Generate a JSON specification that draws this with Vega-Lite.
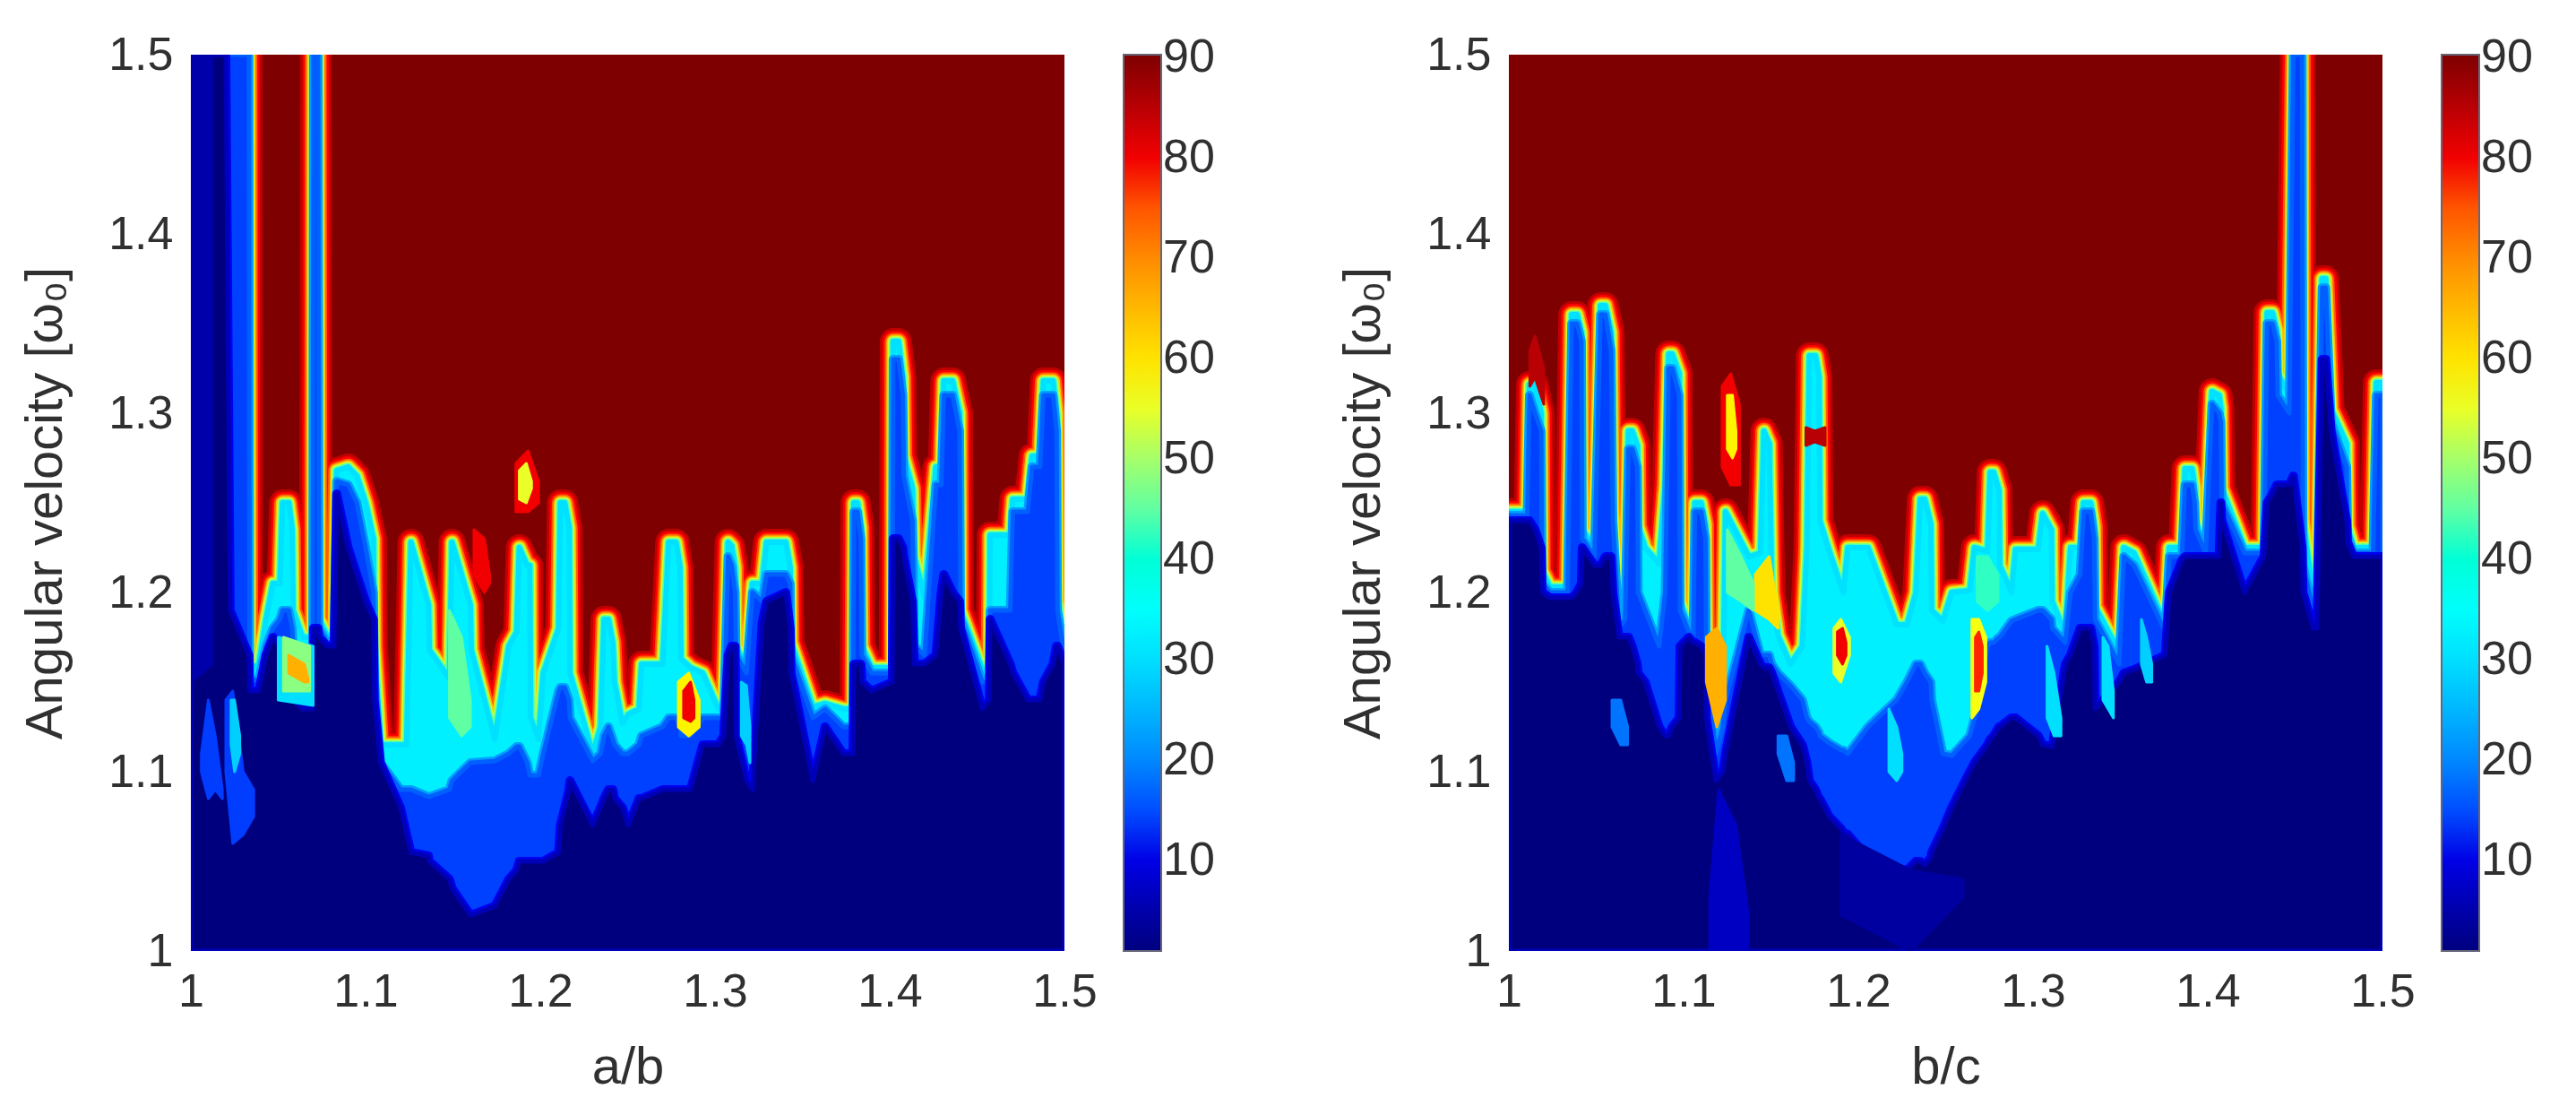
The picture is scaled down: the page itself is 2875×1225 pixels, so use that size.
{"$schema":"https://vega.github.io/schema/vega-lite/v6.json","background":"white","padding":{"left":22,"top":35,"right":0,"bottom":0},"spacing":137,
"config":{"view":{"stroke":null,"fill":"#7f0000"},"axis":{"grid":false,"ticks":false,"domain":false,"labelFlush":false,"labelFont":"Liberation Sans","titleFont":"Liberation Sans","labelFontSize":52,"titleFontSize":58,"labelColor":"#303030","titleColor":"#303030","titleFontWeight":"normal","labelPadding":20},"legend":{"gradientLength":1000,"gradientThickness":42,"gradientStrokeColor":"#667","gradientStrokeWidth":2,"labelFontSize":52,"labelFont":"Liberation Sans","labelColor":"#303030","labelOffset":16,"offset":66,"labelOverlap":false,"labelBaseline":"middle","padding":0,"title":null}},
"datasets":{
"L":[{"x":1,"t":1.5,"c":1.5,"n":1.5},{"x":1.02,"t":1.5,"c":1.5,"n":1.5},{"x":1.0225,"t":1.5,"c":1.5,"n":1.19},{"x":1.0332,"t":1.5,"c":1.5,"n":1.165},{"x":1.0336,"t":1.157,"c":1.15,"n":1.145},{"x":1.039,"t":1.16,"c":1.152,"n":1.145},{"x":1.043,"t":1.185,"c":1.17,"n":1.165},{"x":1.047,"t":1.205,"c":1.18,"n":1.175},{"x":1.051,"t":1.205,"c":1.185,"n":1.17},{"x":1.0525,"t":1.25,"c":1.19,"n":1.17},{"x":1.056,"t":1.25,"c":1.19,"n":1.16},{"x":1.058,"t":1.235,"c":1.18,"n":1.15},{"x":1.0585,"t":1.19,"c":1.17,"n":1.14},{"x":1.064,"t":1.175,"c":1.155,"n":1.135},{"x":1.0698,"t":1.175,"c":1.15,"n":1.135},{"x":1.0702,"t":1.5,"c":1.5,"n":1.18},{"x":1.0728,"t":1.5,"c":1.5,"n":1.18},{"x":1.0733,"t":1.185,"c":1.18,"n":1.175},{"x":1.078,"t":1.176,"c":1.172,"n":1.17},{"x":1.082,"t":1.176,"c":1.172,"n":1.17},{"x":1.0835,"t":1.268,"c":1.262,"n":1.255},{"x":1.09,"t":1.27,"c":1.26,"n":1.225},{"x":1.095,"t":1.265,"c":1.25,"n":1.21},{"x":1.1,"t":1.25,"c":1.225,"n":1.195},{"x":1.1045,"t":1.23,"c":1.2,"n":1.185},{"x":1.105,"t":1.17,"c":1.15,"n":1.14},{"x":1.1085,"t":1.115,"c":1.105,"n":1.105},{"x":1.12,"t":1.115,"c":1.09,"n":1.08},{"x":1.1235,"t":1.115,"c":1.09,"n":1.065},{"x":1.126,"t":1.228,"c":1.09,"n":1.055},{"x":1.136,"t":1.193,"c":1.086,"n":1.053},{"x":1.1365,"t":1.168,"c":1.086,"n":1.05},{"x":1.148,"t":1.152,"c":1.09,"n":1.04},{"x":1.1495,"t":1.228,"c":1.095,"n":1.035},{"x":1.16,"t":1.193,"c":1.105,"n":1.02},{"x":1.1605,"t":1.168,"c":1.105,"n":1.02},{"x":1.174,"t":1.118,"c":1.106,"n":1.025},{"x":1.182,"t":1.17,"c":1.11,"n":1.04},{"x":1.1865,"t":1.178,"c":1.114,"n":1.045},{"x":1.188,"t":1.225,"c":1.114,"n":1.05},{"x":1.1925,"t":1.215,"c":1.105,"n":1.05},{"x":1.194,"t":1.215,"c":1.098,"n":1.05},{"x":1.1945,"t":1.13,"c":1.098,"n":1.05},{"x":1.199,"t":1.118,"c":1.098,"n":1.05},{"x":1.2017,"t":1.155,"c":1.11,"n":1.05},{"x":1.2105,"t":1.18,"c":1.145,"n":1.055},{"x":1.2115,"t":1.25,"c":1.147,"n":1.07},{"x":1.214,"t":1.25,"c":1.147,"n":1.08},{"x":1.2165,"t":1.236,"c":1.14,"n":1.09},{"x":1.217,"t":1.155,"c":1.13,"n":1.095},{"x":1.23,"t":1.11,"c":1.106,"n":1.07},{"x":1.2345,"t":1.125,"c":1.11,"n":1.08},{"x":1.2365,"t":1.185,"c":1.12,"n":1.085},{"x":1.239,"t":1.185,"c":1.125,"n":1.09},{"x":1.2415,"t":1.172,"c":1.118,"n":1.09},{"x":1.2425,"t":1.15,"c":1.115,"n":1.085},{"x":1.247,"t":1.127,"c":1.11,"n":1.08},{"x":1.2503,"t":1.132,"c":1.11,"n":1.07},{"x":1.2565,"t":1.135,"c":1.115,"n":1.085},{"x":1.258,"t":1.16,"c":1.12,"n":1.085},{"x":1.27,"t":1.16,"c":1.125,"n":1.09},{"x":1.2735,"t":1.228,"c":1.13,"n":1.09},{"x":1.2777,"t":1.228,"c":1.13,"n":1.09},{"x":1.28,"t":1.214,"c":1.125,"n":1.09},{"x":1.2805,"t":1.163,"c":1.12,"n":1.09},{"x":1.286,"t":1.158,"c":1.12,"n":1.09},{"x":1.293,"t":1.155,"c":1.13,"n":1.115},{"x":1.302,"t":1.135,"c":1.13,"n":1.115},{"x":1.305,"t":1.135,"c":1.13,"n":1.12},{"x":1.3075,"t":1.228,"c":1.22,"n":1.165},{"x":1.3095,"t":1.226,"c":1.215,"n":1.17},{"x":1.3115,"t":1.214,"c":1.2,"n":1.17},{"x":1.312,"t":1.17,"c":1.165,"n":1.12},{"x":1.318,"t":1.158,"c":1.155,"n":1.095},{"x":1.3215,"t":1.205,"c":1.2,"n":1.09},{"x":1.327,"t":1.205,"c":1.195,"n":1.183},{"x":1.3295,"t":1.228,"c":1.21,"n":1.195},{"x":1.3405,"t":1.228,"c":1.21,"n":1.2},{"x":1.343,"t":1.214,"c":1.205,"n":1.18},{"x":1.3435,"t":1.172,"c":1.165,"n":1.155},{"x":1.356,"t":1.136,"c":1.13,"n":1.095},{"x":1.363,"t":1.138,"c":1.135,"n":1.125},{"x":1.3734,"t":1.135,"c":1.125,"n":1.11},{"x":1.379,"t":1.135,"c":1.125,"n":1.11},{"x":1.3795,"t":1.25,"c":1.245,"n":1.16},{"x":1.3815,"t":1.25,"c":1.245,"n":1.16},{"x":1.3835,"t":1.236,"c":1.23,"n":1.16},{"x":1.384,"t":1.17,"c":1.165,"n":1.15},{"x":1.3896,"t":1.158,"c":1.155,"n":1.145},{"x":1.4015,"t":1.158,"c":1.155,"n":1.15},{"x":1.402,"t":1.34,"c":1.33,"n":1.23},{"x":1.405,"t":1.34,"c":1.33,"n":1.23},{"x":1.4075,"t":1.32,"c":1.31,"n":1.225},{"x":1.408,"t":1.276,"c":1.265,"n":1.22},{"x":1.413,"t":1.258,"c":1.24,"n":1.195},{"x":1.414,"t":1.22,"c":1.17,"n":1.16},{"x":1.42,"t":1.197,"c":1.165,"n":1.16},{"x":1.4265,"t":1.27,"c":1.26,"n":1.165},{"x":1.4295,"t":1.27,"c":1.26,"n":1.2},{"x":1.431,"t":1.318,"c":1.31,"n":1.21},{"x":1.436,"t":1.318,"c":1.31,"n":1.2},{"x":1.44,"t":1.3,"c":1.29,"n":1.195},{"x":1.4405,"t":1.19,"c":1.185,"n":1.18},{"x":1.453,"t":1.157,"c":1.15,"n":1.135},{"x":1.457,"t":1.157,"c":1.15,"n":1.14},{"x":1.4575,"t":1.232,"c":1.19,"n":1.185},{"x":1.469,"t":1.232,"c":1.19,"n":1.16},{"x":1.4705,"t":1.252,"c":1.245,"n":1.155},{"x":1.479,"t":1.252,"c":1.245,"n":1.14},{"x":1.4815,"t":1.276,"c":1.27,"n":1.14},{"x":1.486,"t":1.276,"c":1.27,"n":1.14},{"x":1.488,"t":1.318,"c":1.31,"n":1.15},{"x":1.4935,"t":1.318,"c":1.31,"n":1.16},{"x":1.4955,"t":1.3,"c":1.29,"n":1.17},{"x":1.496,"t":1.195,"c":1.19,"n":1.17},{"x":1.5,"t":1.17,"c":1.165,"n":1.16}],
"R":[{"x":1,"t":1.245,"c":1.243,"n":1.24},{"x":1.0105,"t":1.245,"c":1.243,"n":1.24},{"x":1.0118,"t":1.316,"c":1.31,"n":1.24},{"x":1.015,"t":1.316,"c":1.3,"n":1.235},{"x":1.0185,"t":1.3,"c":1.29,"n":1.225},{"x":1.019,"t":1.212,"c":1.205,"n":1.2},{"x":1.0235,"t":1.203,"c":1.2,"n":1.197},{"x":1.0336,"t":1.203,"c":1.2,"n":1.197},{"x":1.036,"t":1.355,"c":1.35,"n":1.197},{"x":1.039,"t":1.355,"c":1.35,"n":1.2},{"x":1.0415,"t":1.345,"c":1.34,"n":1.205},{"x":1.042,"t":1.235,"c":1.23,"n":1.225},{"x":1.049,"t":1.225,"c":1.22,"n":1.215},{"x":1.0525,"t":1.36,"c":1.355,"n":1.215},{"x":1.0552,"t":1.36,"c":1.355,"n":1.22},{"x":1.0585,"t":1.345,"c":1.335,"n":1.22},{"x":1.0595,"t":1.245,"c":1.24,"n":1.2},{"x":1.063,"t":1.184,"c":1.18,"n":1.175},{"x":1.0665,"t":1.19,"c":1.185,"n":1.175},{"x":1.0685,"t":1.29,"c":1.28,"n":1.175},{"x":1.0706,"t":1.29,"c":1.28,"n":1.17},{"x":1.0735,"t":1.282,"c":1.27,"n":1.16},{"x":1.074,"t":1.237,"c":1.2,"n":1.155},{"x":1.078,"t":1.225,"c":1.19,"n":1.15},{"x":1.086,"t":1.216,"c":1.17,"n":1.125},{"x":1.0895,"t":1.26,"c":1.2,"n":1.12},{"x":1.0915,"t":1.333,"c":1.325,"n":1.12},{"x":1.0935,"t":1.333,"c":1.325,"n":1.125},{"x":1.0975,"t":1.322,"c":1.31,"n":1.13},{"x":1.098,"t":1.195,"c":1.19,"n":1.17},{"x":1.103,"t":1.182,"c":1.178,"n":1.175},{"x":1.1055,"t":1.18,"c":1.175,"n":1.172},{"x":1.1065,"t":1.25,"c":1.245,"n":1.172},{"x":1.11,"t":1.25,"c":1.245,"n":1.17},{"x":1.1125,"t":1.238,"c":1.23,"n":1.165},{"x":1.113,"t":1.18,"c":1.16,"n":1.13},{"x":1.1185,"t":1.126,"c":1.11,"n":1.095},{"x":1.1225,"t":1.14,"c":1.125,"n":1.1},{"x":1.124,"t":1.245,"c":1.14,"n":1.11},{"x":1.1373,"t":1.22,"c":1.19,"n":1.175},{"x":1.144,"t":1.222,"c":1.165,"n":1.16},{"x":1.146,"t":1.29,"c":1.165,"n":1.158},{"x":1.149,"t":1.283,"c":1.165,"n":1.158},{"x":1.1505,"t":1.2,"c":1.16,"n":1.155},{"x":1.154,"t":1.176,"c":1.155,"n":1.145},{"x":1.1612,"t":1.16,"c":1.148,"n":1.125},{"x":1.168,"t":1.17,"c":1.14,"n":1.115},{"x":1.1706,"t":1.225,"c":1.13,"n":1.105},{"x":1.172,"t":1.332,"c":1.128,"n":1.095},{"x":1.1755,"t":1.332,"c":1.125,"n":1.09},{"x":1.1775,"t":1.32,"c":1.122,"n":1.085},{"x":1.178,"t":1.24,"c":1.12,"n":1.085},{"x":1.1834,"t":1.223,"c":1.116,"n":1.075},{"x":1.1903,"t":1.203,"c":1.112,"n":1.068},{"x":1.1915,"t":1.2,"c":1.112,"n":1.066},{"x":1.194,"t":1.225,"c":1.11,"n":1.065},{"x":1.2056,"t":1.225,"c":1.125,"n":1.052},{"x":1.2219,"t":1.182,"c":1.14,"n":1.046},{"x":1.2279,"t":1.182,"c":1.15,"n":1.045},{"x":1.233,"t":1.2,"c":1.16,"n":1.05},{"x":1.2355,"t":1.252,"c":1.16,"n":1.05},{"x":1.238,"t":1.252,"c":1.155,"n":1.048},{"x":1.2415,"t":1.238,"c":1.15,"n":1.052},{"x":1.242,"t":1.19,"c":1.14,"n":1.055},{"x":1.2484,"t":1.184,"c":1.11,"n":1.068},{"x":1.2535,"t":1.2,"c":1.109,"n":1.08},{"x":1.2638,"t":1.201,"c":1.12,"n":1.1},{"x":1.2665,"t":1.225,"c":1.13,"n":1.105},{"x":1.274,"t":1.223,"c":1.17,"n":1.115},{"x":1.2755,"t":1.267,"c":1.172,"n":1.118},{"x":1.2775,"t":1.267,"c":1.172,"n":1.12},{"x":1.2805,"t":1.257,"c":1.175,"n":1.125},{"x":1.281,"t":1.215,"c":1.175,"n":1.125},{"x":1.2877,"t":1.2,"c":1.184,"n":1.13},{"x":1.29,"t":1.224,"c":1.185,"n":1.13},{"x":1.303,"t":1.224,"c":1.19,"n":1.12},{"x":1.3055,"t":1.244,"c":1.19,"n":1.115},{"x":1.3105,"t":1.235,"c":1.185,"n":1.114},{"x":1.311,"t":1.195,"c":1.18,"n":1.114},{"x":1.3185,"t":1.177,"c":1.172,"n":1.16},{"x":1.3215,"t":1.225,"c":1.2,"n":1.165},{"x":1.327,"t":1.225,"c":1.21,"n":1.18},{"x":1.329,"t":1.25,"c":1.245,"n":1.18},{"x":1.333,"t":1.25,"c":1.245,"n":1.18},{"x":1.335,"t":1.237,"c":1.23,"n":1.17},{"x":1.3355,"t":1.192,"c":1.185,"n":1.135},{"x":1.3493,"t":1.167,"c":1.16,"n":1.15},{"x":1.352,"t":1.225,"c":1.22,"n":1.155},{"x":1.3578,"t":1.222,"c":1.215,"n":1.157},{"x":1.3757,"t":1.182,"c":1.178,"n":1.165},{"x":1.378,"t":1.225,"c":1.22,"n":1.2},{"x":1.3852,"t":1.225,"c":1.22,"n":1.218},{"x":1.387,"t":1.269,"c":1.26,"n":1.22},{"x":1.391,"t":1.269,"c":1.26,"n":1.22},{"x":1.3925,"t":1.259,"c":1.25,"n":1.22},{"x":1.393,"t":1.24,"c":1.235,"n":1.22},{"x":1.3988,"t":1.225,"c":1.222,"n":1.22},{"x":1.4025,"t":1.312,"c":1.305,"n":1.22},{"x":1.4065,"t":1.31,"c":1.3,"n":1.22},{"x":1.4075,"t":1.303,"c":1.295,"n":1.25},{"x":1.408,"t":1.258,"c":1.25,"n":1.24},{"x":1.421,"t":1.225,"c":1.222,"n":1.2},{"x":1.4322,"t":1.225,"c":1.222,"n":1.22},{"x":1.434,"t":1.356,"c":1.35,"n":1.25},{"x":1.437,"t":1.356,"c":1.35,"n":1.255},{"x":1.4395,"t":1.346,"c":1.34,"n":1.26},{"x":1.44,"t":1.322,"c":1.31,"n":1.26},{"x":1.4467,"t":1.31,"c":1.3,"n":1.26},{"x":1.449,"t":1.5,"c":1.5,"n":1.265},{"x":1.454,"t":1.5,"c":1.5,"n":1.225},{"x":1.4545,"t":1.24,"c":1.215,"n":1.2},{"x":1.4604,"t":1.198,"c":1.19,"n":1.18},{"x":1.4625,"t":1.2,"c":1.19,"n":1.18},{"x":1.4655,"t":1.375,"c":1.37,"n":1.33},{"x":1.4675,"t":1.375,"c":1.37,"n":1.33},{"x":1.4706,"t":1.302,"c":1.295,"n":1.29},{"x":1.4795,"t":1.283,"c":1.27,"n":1.24},{"x":1.48,"t":1.237,"c":1.232,"n":1.228},{"x":1.4834,"t":1.225,"c":1.222,"n":1.22},{"x":1.4946,"t":1.225,"c":1.222,"n":1.22},{"x":1.4965,"t":1.317,"c":1.31,"n":1.22},{"x":1.5,"t":1.317,"c":1.31,"n":1.22}],
"LI":[{"k":"a","v":5,"x":1,"lo":1.15,"hi":1.5},{"k":"a","v":5,"x":1.012,"lo":1.16,"hi":1.5},{"k":"b","v":14,"x":1.006,"lo":1.1,"hi":1.11},{"k":"b","v":14,"x":1.01,"lo":1.085,"hi":1.14},{"k":"b","v":14,"x":1.014,"lo":1.09,"hi":1.12},{"k":"b","v":14,"x":1.018,"lo":1.085,"hi":1.09},{"k":"c","v":14,"x":1.02,"lo":1.1,"hi":1.14},{"k":"c","v":14,"x":1.024,"lo":1.06,"hi":1.145},{"k":"c","v":14,"x":1.03,"lo":1.065,"hi":1.1},{"k":"c","v":14,"x":1.036,"lo":1.075,"hi":1.09},{"k":"d","v":28,"x":1.023,"lo":1.115,"hi":1.14},{"k":"d","v":28,"x":1.025,"lo":1.1,"hi":1.14},{"k":"d","v":28,"x":1.028,"lo":1.11,"hi":1.12},{"k":"e","v":30,"x":1.05,"lo":1.14,"hi":1.175},{"k":"e","v":30,"x":1.07,"lo":1.137,"hi":1.17},{"k":"f","v":48,"x":1.053,"lo":1.145,"hi":1.175},{"k":"f","v":48,"x":1.068,"lo":1.145,"hi":1.17},{"k":"g","v":66,"x":1.056,"lo":1.155,"hi":1.165},{"k":"g","v":66,"x":1.065,"lo":1.15,"hi":1.16},{"k":"g","v":66,"x":1.067,"lo":1.15,"hi":1.152},{"k":"h","v":45,"x":1.148,"lo":1.13,"hi":1.19},{"k":"h","v":45,"x":1.155,"lo":1.12,"hi":1.175},{"k":"h","v":45,"x":1.16,"lo":1.125,"hi":1.14},{"k":"i","v":80,"x":1.162,"lo":1.21,"hi":1.235},{"k":"i","v":80,"x":1.168,"lo":1.2,"hi":1.23},{"k":"i","v":80,"x":1.171,"lo":1.205,"hi":1.21},{"k":"j","v":80,"x":1.186,"lo":1.245,"hi":1.272},{"k":"j","v":80,"x":1.193,"lo":1.245,"hi":1.279},{"k":"j","v":80,"x":1.199,"lo":1.25,"hi":1.262},{"k":"m","v":55,"x":1.188,"lo":1.252,"hi":1.268},{"k":"m","v":55,"x":1.192,"lo":1.25,"hi":1.272},{"k":"m","v":55,"x":1.195,"lo":1.258,"hi":1.262},{"k":"o","v":58,"x":1.279,"lo":1.125,"hi":1.15},{"k":"o","v":58,"x":1.285,"lo":1.12,"hi":1.155},{"k":"o","v":58,"x":1.291,"lo":1.125,"hi":1.14},{"k":"p","v":80,"x":1.282,"lo":1.13,"hi":1.145},{"k":"p","v":80,"x":1.286,"lo":1.128,"hi":1.15},{"k":"p","v":80,"x":1.288,"lo":1.13,"hi":1.14},{"k":"q","v":28,"x":1.315,"lo":1.12,"hi":1.15},{"k":"q","v":28,"x":1.318,"lo":1.115,"hi":1.148},{"k":"q","v":28,"x":1.32,"lo":1.105,"hi":1.125}],
"RI":[{"k":"a","v":7,"x":1.115,"lo":1,"hi":1.03},{"k":"a","v":7,"x":1.12,"lo":1,"hi":1.09},{"k":"a","v":7,"x":1.13,"lo":1,"hi":1.07},{"k":"a","v":7,"x":1.137,"lo":1,"hi":1.02},{"k":"b","v":4,"x":1.19,"lo":1.02,"hi":1.065},{"k":"b","v":4,"x":1.23,"lo":1,"hi":1.045},{"k":"b","v":4,"x":1.26,"lo":1.03,"hi":1.04},{"k":"c","v":18,"x":1.059,"lo":1.125,"hi":1.14},{"k":"c","v":18,"x":1.064,"lo":1.115,"hi":1.14},{"k":"c","v":18,"x":1.068,"lo":1.115,"hi":1.125},{"k":"d","v":18,"x":1.154,"lo":1.11,"hi":1.12},{"k":"d","v":18,"x":1.159,"lo":1.095,"hi":1.12},{"k":"d","v":18,"x":1.163,"lo":1.095,"hi":1.105},{"k":"e","v":85,"x":1.012,"lo":1.315,"hi":1.335},{"k":"e","v":85,"x":1.015,"lo":1.32,"hi":1.343},{"k":"e","v":85,"x":1.02,"lo":1.305,"hi":1.325},{"k":"f","v":80,"x":1.122,"lo":1.27,"hi":1.315},{"k":"f","v":80,"x":1.127,"lo":1.26,"hi":1.322},{"k":"f","v":80,"x":1.132,"lo":1.26,"hi":1.305},{"k":"g","v":58,"x":1.125,"lo":1.28,"hi":1.31},{"k":"g","v":58,"x":1.128,"lo":1.275,"hi":1.31},{"k":"g","v":58,"x":1.13,"lo":1.28,"hi":1.29},{"k":"h","v":85,"x":1.17,"lo":1.282,"hi":1.292},{"k":"h","v":85,"x":1.175,"lo":1.284,"hi":1.29},{"k":"h","v":85,"x":1.181,"lo":1.282,"hi":1.292},{"k":"i","v":60,"x":1.141,"lo":1.19,"hi":1.21},{"k":"i","v":60,"x":1.149,"lo":1.185,"hi":1.22},{"k":"i","v":60,"x":1.154,"lo":1.18,"hi":1.19},{"k":"j","v":45,"x":1.125,"lo":1.2,"hi":1.235},{"k":"j","v":45,"x":1.133,"lo":1.195,"hi":1.22},{"k":"j","v":45,"x":1.14,"lo":1.19,"hi":1.205},{"k":"m","v":66,"x":1.113,"lo":1.15,"hi":1.175},{"k":"m","v":66,"x":1.119,"lo":1.125,"hi":1.18},{"k":"m","v":66,"x":1.124,"lo":1.14,"hi":1.17},{"k":"o","v":55,"x":1.186,"lo":1.155,"hi":1.18},{"k":"o","v":55,"x":1.19,"lo":1.15,"hi":1.185},{"k":"o","v":55,"x":1.195,"lo":1.165,"hi":1.175},{"k":"p","v":80,"x":1.188,"lo":1.165,"hi":1.178},{"k":"p","v":80,"x":1.191,"lo":1.16,"hi":1.18},{"k":"p","v":80,"x":1.193,"lo":1.165,"hi":1.172},{"k":"q","v":30,"x":1.2175,"lo":1.1,"hi":1.135},{"k":"q","v":30,"x":1.222,"lo":1.095,"hi":1.125},{"k":"q","v":30,"x":1.225,"lo":1.1,"hi":1.11},{"k":"r","v":56,"x":1.265,"lo":1.13,"hi":1.185},{"k":"r","v":56,"x":1.269,"lo":1.135,"hi":1.185},{"k":"r","v":56,"x":1.273,"lo":1.15,"hi":1.175},{"k":"s","v":78,"x":1.267,"lo":1.145,"hi":1.175},{"k":"s","v":78,"x":1.269,"lo":1.145,"hi":1.178},{"k":"s","v":78,"x":1.271,"lo":1.155,"hi":1.17},{"k":"u","v":42,"x":1.268,"lo":1.195,"hi":1.22},{"k":"u","v":42,"x":1.274,"lo":1.19,"hi":1.22},{"k":"u","v":42,"x":1.28,"lo":1.195,"hi":1.21},{"k":"w","v":30,"x":1.308,"lo":1.13,"hi":1.17},{"k":"w","v":30,"x":1.312,"lo":1.12,"hi":1.155},{"k":"w","v":30,"x":1.316,"lo":1.12,"hi":1.13},{"k":"y","v":30,"x":1.34,"lo":1.14,"hi":1.175},{"k":"y","v":30,"x":1.343,"lo":1.135,"hi":1.17},{"k":"y","v":30,"x":1.346,"lo":1.13,"hi":1.145},{"k":"z","v":28,"x":1.362,"lo":1.16,"hi":1.185},{"k":"z","v":28,"x":1.365,"lo":1.15,"hi":1.175},{"k":"z","v":28,"x":1.368,"lo":1.15,"hi":1.16}]},
"hconcat":[
{"width":975,"height":1000,"data":{"name":"L"},"resolve":{"scale":{"color":"independent"}},
"encoding":{"x":{"field":"x","type":"quantitative","scale":{"domain":[1,1.5],"nice":false},"title":"a/b","axis":{"values":[1,1.1,1.2,1.3,1.4,1.5],"format":"~g","titlePadding":30}},"y":{"type":"quantitative","scale":{"domain":[1,1.5],"nice":false},"title":"Angular velocity [ω₀]","axis":{"values":[1,1.1,1.2,1.3,1.4,1.5],"format":"~g","titlePadding":40}}},
"layer":[
{"mark":{"type":"area","clip":true,"fill":"#c00000","stroke":"#c00000","strokeWidth":30,"strokeJoin":"round"},"encoding":{"y":{"field":"t"},"y2":{"datum":1}}},
{"mark":{"type":"area","clip":true,"fill":"#ff0000","stroke":"#ff0000","strokeWidth":24,"strokeJoin":"round"},"encoding":{"y":{"field":"t"},"y2":{"datum":1}}},
{"mark":{"type":"area","clip":true,"fill":"#ff6000","stroke":"#ff6000","strokeWidth":19,"strokeJoin":"round"},"encoding":{"y":{"field":"t"},"y2":{"datum":1}}},
{"mark":{"type":"area","clip":true,"fill":"#ffc000","stroke":"#ffc000","strokeWidth":15,"strokeJoin":"round"},"encoding":{"y":{"field":"t"},"y2":{"datum":1}}},
{"mark":{"type":"area","clip":true,"fill":"#c8ff36","stroke":"#c8ff36","strokeWidth":12,"strokeJoin":"round"},"encoding":{"y":{"field":"t"},"y2":{"datum":1}}},
{"mark":{"type":"area","clip":true,"fill":"#50ffaf","stroke":"#50ffaf","strokeWidth":9,"strokeJoin":"round"},"encoding":{"y":{"field":"t"},"y2":{"datum":1}}},
{"mark":{"type":"area","clip":true,"fill":"#00f0ff","stroke":"#00e0ff","strokeWidth":6,"strokeJoin":"round"},"encoding":{"y":{"field":"t"},"y2":{"datum":1}}},
{"mark":{"type":"area","clip":true,"fill":"#00a0ff","stroke":"#00a0ff","strokeWidth":10,"strokeJoin":"round"},"encoding":{"y":{"field":"c"},"y2":{"datum":1}}},
{"mark":{"type":"area","clip":true,"fill":"#0040ff","stroke":"#0060ff","strokeWidth":5,"strokeJoin":"round"},"encoding":{"y":{"field":"c"},"y2":{"datum":1}}},
{"mark":{"type":"area","clip":true,"fill":"#0000f0","stroke":"#0000f0","strokeWidth":10,"strokeJoin":"round"},"encoding":{"y":{"field":"n"},"y2":{"datum":1}}},
{"mark":{"type":"area","clip":true,"fill":"#00007f","stroke":"#0000b8","strokeWidth":5,"strokeJoin":"round"},"encoding":{"y":{"field":"n"},"y2":{"datum":1}}},
{"data":{"name":"LI"},"mark":{"type":"area","clip":true,"strokeWidth":3,"strokeJoin":"round"},"encoding":{"y":{"field":"hi"},"y2":{"field":"lo"},"detail":{"field":"k"},"color":{"field":"v","type":"quantitative","scale":{"domain":[1,12.1,34.4,56.6,78.9,90.3],"range":["#00007f","#0000ff","#00ffff","#ffff00","#ff0000","#7f0000"]},"legend":{"values":[10,20,30,40,50,60,70,80,90],"gradientLength":1000,"labelBaseline":"middle"}},"stroke":{"field":"v","type":"quantitative","legend":null,"scale":{"domain":[1,12.1,34.4,56.6,78.9,90.3],"range":["#00007f","#0000ff","#00ffff","#ffff00","#ff0000","#7f0000"]}}}}
]},
{"width":975,"height":1000,"data":{"name":"R"},"resolve":{"scale":{"color":"independent"}},
"encoding":{"x":{"field":"x","type":"quantitative","scale":{"domain":[1,1.5],"nice":false},"title":"b/c","axis":{"values":[1,1.1,1.2,1.3,1.4,1.5],"format":"~g","titlePadding":30}},"y":{"type":"quantitative","scale":{"domain":[1,1.5],"nice":false},"title":"Angular velocity [ω₀]","axis":{"values":[1,1.1,1.2,1.3,1.4,1.5],"format":"~g","titlePadding":40}}},
"layer":[
{"mark":{"type":"area","clip":true,"fill":"#c00000","stroke":"#c00000","strokeWidth":30,"strokeJoin":"round"},"encoding":{"y":{"field":"t"},"y2":{"datum":1}}},
{"mark":{"type":"area","clip":true,"fill":"#ff0000","stroke":"#ff0000","strokeWidth":24,"strokeJoin":"round"},"encoding":{"y":{"field":"t"},"y2":{"datum":1}}},
{"mark":{"type":"area","clip":true,"fill":"#ff6000","stroke":"#ff6000","strokeWidth":19,"strokeJoin":"round"},"encoding":{"y":{"field":"t"},"y2":{"datum":1}}},
{"mark":{"type":"area","clip":true,"fill":"#ffc000","stroke":"#ffc000","strokeWidth":15,"strokeJoin":"round"},"encoding":{"y":{"field":"t"},"y2":{"datum":1}}},
{"mark":{"type":"area","clip":true,"fill":"#c8ff36","stroke":"#c8ff36","strokeWidth":12,"strokeJoin":"round"},"encoding":{"y":{"field":"t"},"y2":{"datum":1}}},
{"mark":{"type":"area","clip":true,"fill":"#50ffaf","stroke":"#50ffaf","strokeWidth":9,"strokeJoin":"round"},"encoding":{"y":{"field":"t"},"y2":{"datum":1}}},
{"mark":{"type":"area","clip":true,"fill":"#00f0ff","stroke":"#00e0ff","strokeWidth":6,"strokeJoin":"round"},"encoding":{"y":{"field":"t"},"y2":{"datum":1}}},
{"mark":{"type":"area","clip":true,"fill":"#00a0ff","stroke":"#00a0ff","strokeWidth":10,"strokeJoin":"round"},"encoding":{"y":{"field":"c"},"y2":{"datum":1}}},
{"mark":{"type":"area","clip":true,"fill":"#0040ff","stroke":"#0060ff","strokeWidth":5,"strokeJoin":"round"},"encoding":{"y":{"field":"c"},"y2":{"datum":1}}},
{"mark":{"type":"area","clip":true,"fill":"#0000f0","stroke":"#0000f0","strokeWidth":10,"strokeJoin":"round"},"encoding":{"y":{"field":"n"},"y2":{"datum":1}}},
{"mark":{"type":"area","clip":true,"fill":"#00007f","stroke":"#0000b8","strokeWidth":5,"strokeJoin":"round"},"encoding":{"y":{"field":"n"},"y2":{"datum":1}}},
{"data":{"name":"RI"},"mark":{"type":"area","clip":true,"strokeWidth":3,"strokeJoin":"round"},"encoding":{"y":{"field":"hi"},"y2":{"field":"lo"},"detail":{"field":"k"},"color":{"field":"v","type":"quantitative","scale":{"domain":[1,12.1,34.4,56.6,78.9,90.3],"range":["#00007f","#0000ff","#00ffff","#ffff00","#ff0000","#7f0000"]},"legend":{"values":[10,20,30,40,50,60,70,80,90],"gradientLength":1000,"labelBaseline":"middle"}},"stroke":{"field":"v","type":"quantitative","legend":null,"scale":{"domain":[1,12.1,34.4,56.6,78.9,90.3],"range":["#00007f","#0000ff","#00ffff","#ffff00","#ff0000","#7f0000"]}}}}
]}
],"resolve":{"scale":{"color":"independent"}}}
